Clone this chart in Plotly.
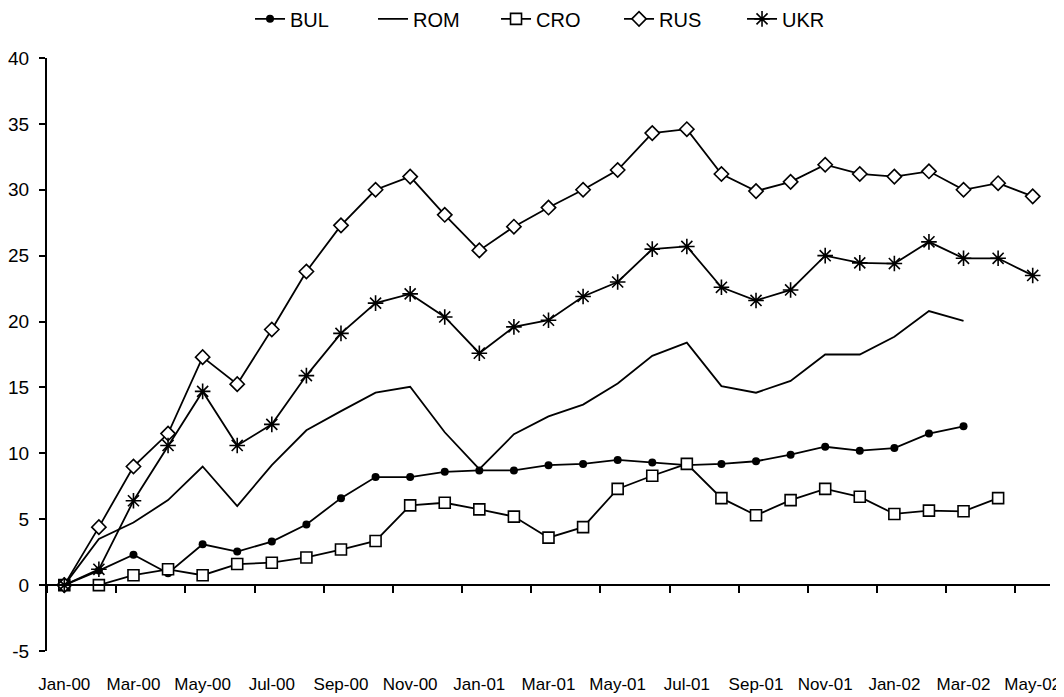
import plotly.graph_objects as go

months = ["Jan-00", "Feb-00", "Mar-00", "Apr-00", "May-00", "Jun-00", "Jul-00", "Aug-00",
          "Sep-00", "Oct-00", "Nov-00", "Dec-00", "Jan-01", "Feb-01", "Mar-01", "Apr-01",
          "May-01", "Jun-01", "Jul-01", "Aug-01", "Sep-01", "Oct-01", "Nov-01", "Dec-01",
          "Jan-02", "Feb-02", "Mar-02", "Apr-02", "May-02"]
tick_labels = months[::2]
y_ticks = [-5, 0, 5, 10, 15, 20, 25, 30, 35, 40]
y_tick_text = ["-5", "0", "5", "10", "15", "20", "25", "30", "35", "40"]

bul = [0, 1.1, 2.3, 0.9, 3.1, 2.55, 3.3, 4.6, 6.6, 8.2, 8.2, 8.6, 8.7, 8.7, 9.1, 9.2,
       9.5, 9.3, 9.1, 9.2, 9.4, 9.9, 10.5, 10.2, 10.4, 11.5, 12.05, None, None]
rom = [0, 3.5, 4.75, 6.45, 9.0, 6.0, 9.1, 11.75, 13.2, 14.6, 15.05, 11.6, 8.8, 11.45, 12.8, 13.7,
       15.3, 17.4, 18.4, 15.1, 14.6, 15.5, 17.5, 17.5, 18.85, 20.8, 20.05, None, None]
cro = [0, 0, 0.75, 1.2, 0.75, 1.6, 1.7, 2.1, 2.7, 3.35, 6.05, 6.25, 5.75, 5.2, 3.6, 4.4,
       7.3, 8.3, 9.2, 6.6, 5.3, 6.45, 7.3, 6.7, 5.4, 5.65, 5.6, 6.6, None]
rus = [0, 4.4, 9.0, 11.5, 17.3, 15.25, 19.4, 23.8, 27.3, 30.0, 31.0, 28.1, 25.4, 27.2, 28.65, 30.0,
       31.5, 34.3, 34.6, 31.2, 29.9, 30.6, 31.9, 31.2, 31.0, 31.4, 30.0, 30.5, 29.5]
ukr = [0, 1.2, 6.4, 10.6, 14.7, 10.6, 12.2, 15.9, 19.1, 21.4, 22.1, 20.35, 17.6, 19.6, 20.1, 21.9,
       23.0, 25.5, 25.7, 22.6, 21.6, 22.4, 25.0, 24.45, 24.4, 26.05, 24.8, 24.8, 23.5]

FONT = "Liberation Sans"
LW = 1.8

fig = go.Figure()
fig.add_trace(go.Scatter(x=months, y=bul, name="BUL", mode="lines+markers",
                         line=dict(color="black", width=LW),
                         marker=dict(symbol="circle", size=8, color="black")))
fig.add_trace(go.Scatter(x=months, y=rom, name="ROM", mode="lines",
                         line=dict(color="black", width=LW)))
fig.add_trace(go.Scatter(x=months, y=cro, name="CRO", mode="lines+markers",
                         line=dict(color="black", width=LW),
                         marker=dict(symbol="square", size=11, color="white",
                                     line=dict(color="black", width=1.6))))
fig.add_trace(go.Scatter(x=months, y=rus, name="RUS", mode="lines+markers",
                         line=dict(color="black", width=LW),
                         marker=dict(symbol="diamond", size=11, color="white",
                                     line=dict(color="black", width=1.6))))
fig.add_trace(go.Scatter(x=months, y=ukr, name="UKR", mode="lines+markers",
                         line=dict(color="black", width=LW),
                         marker=dict(symbol="asterisk-open", size=13, color="black",
                                     line=dict(color="black", width=1.6))))

# zero-line axis carrying the category tick marks
fig.add_trace(go.Scatter(x=[-0.5, 28.5], y=[0, 0], xaxis="x2", mode="lines",
                         line=dict(color="black", width=2), showlegend=False,
                         hoverinfo="skip"))

fig.update_layout(
    width=1056, height=689,
    margin=dict(l=39, r=14, t=50, b=46, autoexpand=False),
    paper_bgcolor="white", plot_bgcolor="white",
    font=dict(family=FONT, color="black"),
    showlegend=True,
    legend=dict(orientation="h", x=0.509, xanchor="center", y=1.066, yanchor="middle",
                font=dict(family=FONT, size=20, color="black"),
                entrywidth=78, entrywidthmode="pixels",
                bgcolor="rgba(0,0,0,0)", traceorder="normal"),
    xaxis=dict(type="category", categoryorder="array", categoryarray=months,
               range=[-0.5, 28.5], tickmode="array", tickvals=tick_labels, ticktext=tick_labels,
               showline=False, showgrid=False, zeroline=False, automargin=False,
               ticks="outside", ticklen=18, tickcolor="rgba(0,0,0,0)",
               tickfont=dict(family=FONT, size=17, color="black"), tickangle=0),
    xaxis2=dict(overlaying="x", anchor="free", position=1/9, side="bottom",
                range=[-0.5, 28.5], tickmode="linear", tick0=-0.5, dtick=2,
                showticklabels=False, showgrid=False, zeroline=False, automargin=False,
                showline=True, linecolor="black", linewidth=2,
                ticks="outside", ticklen=7, tickwidth=2, tickcolor="black"),
    yaxis=dict(range=[-5, 40], tickmode="array", tickvals=y_ticks, ticktext=y_tick_text,
               showgrid=False, zeroline=False, automargin=False,
               showline=True, linecolor="black", linewidth=2,
               ticks="outside", ticklen=6, tickwidth=2, tickcolor="black",
               ticklabelstandoff=6,
               tickfont=dict(family=FONT, size=19, color="black")),
)

fig.write_html("out.html")
